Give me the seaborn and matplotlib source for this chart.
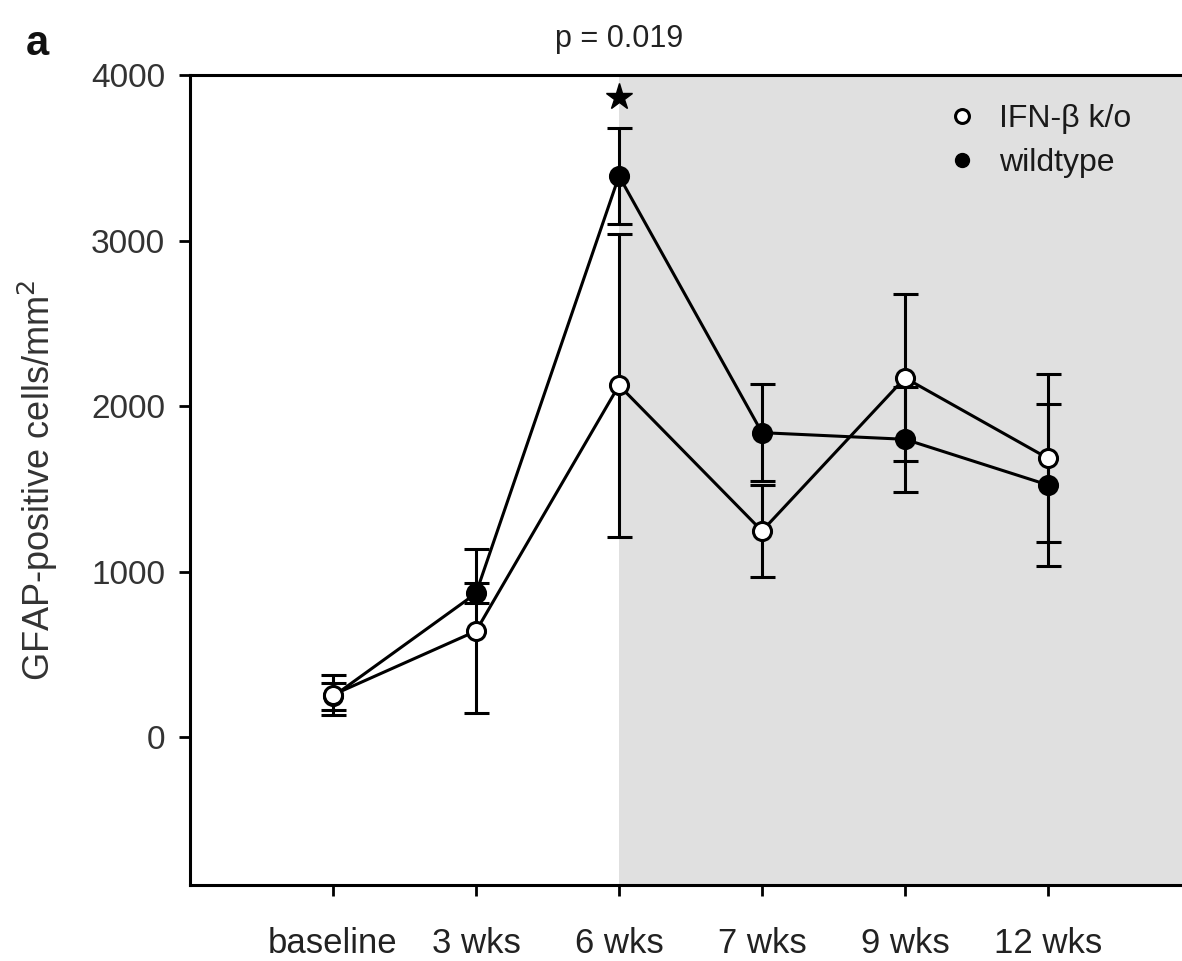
import matplotlib
matplotlib.use("Agg")
import matplotlib.pyplot as plt
import seaborn as sns
import pandas as pd
import numpy as np
from matplotlib.lines import Line2D

categories = ["baseline", "3 wks", "6 wks", "7 wks", "9 wks", "12 wks"]
ko_mean = [255, 640, 2125, 1245, 2170, 1684]
ko_err = [120, 495, 916, 276, 504, 507]
wt_mean = [245, 868, 3390, 1839, 1799, 1523]
wt_err = [82, 60, 290, 292, 317, 488]
star_pos = [2]
star_val = [3865]
yticks = [0, 1000, 2000, 3000, 4000]

sns.set_theme(style="white")
plt.rcParams['font.family'] = ['Liberation Sans', 'DejaVu Sans']

fig = plt.figure(figsize=(11.82, 9.61), dpi=100)
ax = fig.add_axes([190/1182, 76/961, 1072.5/1182, 810/961])

x = np.arange(len(categories))
df = pd.DataFrame({
    "x": np.concatenate([x, x]),
    "y": ko_mean + wt_mean,
    "group": ["IFN-β k/o"] * len(x) + ["wildtype"] * len(x),
})

ax.axvspan(2, 6.5, color="#e0e0e0", zorder=0, lw=0)

ax.errorbar(x, ko_mean, yerr=ko_err, fmt="none", ecolor="black", elinewidth=2.2,
            capsize=9, capthick=2.2, zorder=2)
ax.errorbar(x, wt_mean, yerr=wt_err, fmt="none", ecolor="black", elinewidth=2.2,
            capsize=9, capthick=2.2, zorder=2)

sns.lineplot(data=df[df.group == "wildtype"], x="x", y="y", ax=ax, color="black",
             lw=2.2, marker="o", markersize=13, markerfacecolor="black",
             markeredgecolor="black", markeredgewidth=2.2, zorder=3, legend=False)
sns.lineplot(data=df[df.group == "IFN-β k/o"], x="x", y="y", ax=ax, color="black",
             lw=2.2, marker="o", markersize=13, markerfacecolor="white",
             markeredgecolor="black", markeredgewidth=2.2, zorder=4, legend=False)

ax.plot(star_pos, star_val, marker="*", color="black", markersize=20, lw=0, zorder=5)

handles = [
    Line2D([], [], lw=0, marker="o", markersize=10, markerfacecolor="white",
           markeredgecolor="black", markeredgewidth=2.2),
    Line2D([], [], lw=0, marker="o", markersize=10, markerfacecolor="black",
           markeredgecolor="black"),
]
leg = ax.legend(handles, ["IFN-β k/o", "wildtype"], loc="upper left",
                bbox_to_anchor=(0.678, 1.0), frameon=False,
                fontsize=23, handletextpad=0.65, labelspacing=0.45, handlelength=1.0)
for t in leg.get_texts():
    t.set_color("#1a1a1a")

ax.set_xlim(-1, 6.5)
ax.set_ylim(-894, 4000)
ax.set_xticks(x)
ax.set_xticklabels(categories, fontsize=25, color="#222222")
ax.set_yticks(yticks)
ax.set_yticklabels([str(v) for v in yticks], fontsize=24, color="#333333")
ax.tick_params(axis="both", direction="out", length=8, width=2, color="black",
               bottom=True, left=True)
ax.tick_params(axis="x", pad=22)
ax.tick_params(axis="y", pad=10)
ax.set_xlabel("")
ax.set_ylabel("GFAP-positive cells/mm$^2$", fontsize=26, color="#333333", labelpad=22)

for s in ["left", "bottom", "top"]:
    ax.spines[s].set_visible(True)
    ax.spines[s].set_color("black")
    ax.spines[s].set_linewidth(2.2)
ax.spines["right"].set_visible(False)

ax.text(2, 1.045, "p = 0.019", transform=ax.get_xaxis_transform(), ha="center",
        va="center", fontsize=22, color="#222222")
fig.text(37/1182, 1 - 44/961, "a", fontsize=30, fontweight="bold", ha="center",
         va="center", color="#111111")

fig.savefig("out.png", dpi=100)
